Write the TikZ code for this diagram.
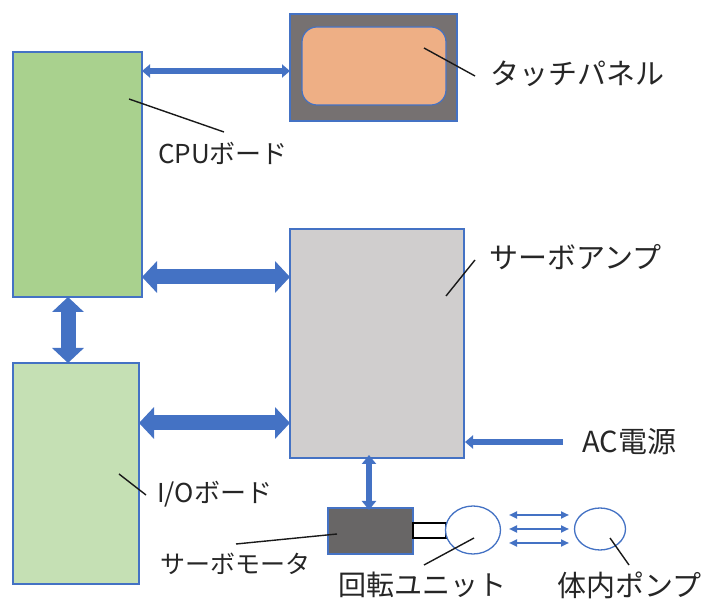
\documentclass[tikz,border=0pt]{standalone}
\usepackage{fontspec}
\setmainfont{Noto Sans CJK JP}
\usetikzlibrary{arrows.meta,shapes.geometric}
\definecolor{obl}{HTML}{4472C4}
\definecolor{cpug}{HTML}{A9D18E}
\definecolor{iog}{HTML}{C5E0B4}
\definecolor{tgray}{HTML}{767171}
\definecolor{torange}{HTML}{EEAF85}
\definecolor{ampg}{HTML}{D0CECE}
\definecolor{motg}{HTML}{686666}
\definecolor{txt}{HTML}{262626}
\tikzset{
  blk/.style={draw=obl, line width=1.2pt, inner sep=0pt, outer sep=0pt, anchor=north west},
  lbl/.style={font=\fontsize{#1}{#1}\selectfont, text=txt, inner sep=0pt, anchor=west},
  lbl/.default=26,
  leader/.style={draw=black!90, line width=1.4pt},
  bigarr/.style={draw=obl, line width=15pt, {Triangle[width=31pt,length=15pt]}-{Triangle[width=31pt,length=15pt]}},
  thinarr/.style={draw=obl, line width=5.5pt, {Triangle[width=13pt,length=8pt]}-{Triangle[width=13pt,length=8pt]}},
  midarr/.style={draw=obl, line width=6pt, {Triangle[width=14pt,length=9pt]}-{Triangle[width=14pt,length=9pt]}},
  acarr/.style={draw=obl, line width=6pt, -{Triangle[width=13pt,length=8pt]}},
  smallarr/.style={draw=obl, line width=2pt, {Triangle[width=7pt,length=8pt]}-{Triangle[width=7pt,length=8pt]}},
}
\begin{document}
\begin{tikzpicture}[x=1pt,y=-1pt]
\useasboundingbox (0,0) rectangle (705,601);
% boxes
\node[blk, fill=cpug, minimum width=129pt, minimum height=245pt] (cpu) at (13,52) {};
\node[blk, fill=iog, minimum width=126pt, minimum height=221pt] (io) at (13,363) {};
\node[blk, fill=tgray, minimum width=167pt, minimum height=107pt] (tp) at (290,14) {};
\node[blk, fill=torange, rounded corners=15pt, minimum width=144pt, minimum height=78pt] (tpin) at (302,27) {};
\node[blk, fill=ampg, minimum width=174pt, minimum height=229pt] (amp) at (290,229) {};
\node[draw=obl, line width=1.2pt, fill=motg, inner sep=0pt, outer sep=0pt, anchor=north west, minimum width=85pt, minimum height=46pt] (mot) at (328,508) {};
\node[draw=black, line width=1.5pt, fill=white, inner sep=0pt, outer sep=0pt, anchor=west, minimum width=33pt, minimum height=15pt] (shaft) at (mot.east |- 0,530.5) {};
\node[ellipse, draw=obl, line width=1.3pt, fill=white, inner sep=0pt, minimum width=55pt, minimum height=48pt] (rot) at (473,530) {};
\node[ellipse, draw=obl, line width=1.3pt, fill=white, inner sep=0pt, minimum width=51pt, minimum height=42pt] (pump) at (600,529) {};
% arrows
\draw[thinarr] (cpu.east |- 0,71) -- (tp.west |- 0,71);
\draw[bigarr] (cpu.east |- 0,277) -- (amp.west |- 0,277);
\draw[bigarr] (io.east |- 0,423) -- (amp.west |- 0,423);
\draw[bigarr] (cpu.south -| 68,0) -- (io.north -| 68,0);
\draw[midarr] ([yshift=3pt]amp.south -| 369,0) -- ([yshift=-2pt]mot.north -| 369,0);
\coordinate (acstart) at (563,442);
\draw[acarr] (acstart) -- ([xshift=1pt]amp.east |- acstart);
\coordinate (s1a) at (509,515); \coordinate (s1b) at (569,515);
\coordinate (s2a) at (509,529); \coordinate (s2b) at (569,529);
\coordinate (s3a) at (509,543); \coordinate (s3b) at (569,543);
\draw[smallarr] (s1a) -- (s1b);
\draw[smallarr] (s2a) -- (s2b);
\draw[smallarr] (s3a) -- (s3b);
% labels
\node[lbl=26] (lcpu) at (158,153) {CPUボード};
\node[lbl=29] (ltp) at (490,74) {タッチパネル};
\node[lbl=29] (lamp) at (489,257) {サーボアンプ};
\node[lbl=29] (lac) at (582,442) {AC電源};
\node[lbl=26] (lio) at (157,494) {I/Oボード};
\node[lbl=25] (lmot) at (160,564) {サーボモータ};
\node[lbl=28] (lrot) at (338,585) {回転ユニット};
\node[lbl=29] (lpump) at (557,585) {体内ポンプ};
% leaders
\coordinate (c1) at (129,99); \coordinate (c2) at (224,132);
\draw[leader] (c1) -- (c2);
\coordinate (t1) at (424,48); \coordinate (t2) at (475,76);
\draw[leader] (t1) -- (t2);
\coordinate (a1) at (446,296); \coordinate (a2) at (475,260);
\draw[leader] (a1) -- (a2);
\coordinate (i1) at (119,474); \coordinate (i2) at (146,495);
\draw[leader] (i1) -- (i2);
\coordinate (m1) at (236,544); \coordinate (m2) at (337,534);
\draw[leader] (m1) -- (m2);
\coordinate (r1) at (424,565); \coordinate (r2) at (474,538);
\draw[leader] (r1) -- (r2);
\coordinate (p1) at (629,565); \coordinate (p2) at (610,538);
\draw[leader] (p1) -- (p2);
\end{tikzpicture}
\end{document}
